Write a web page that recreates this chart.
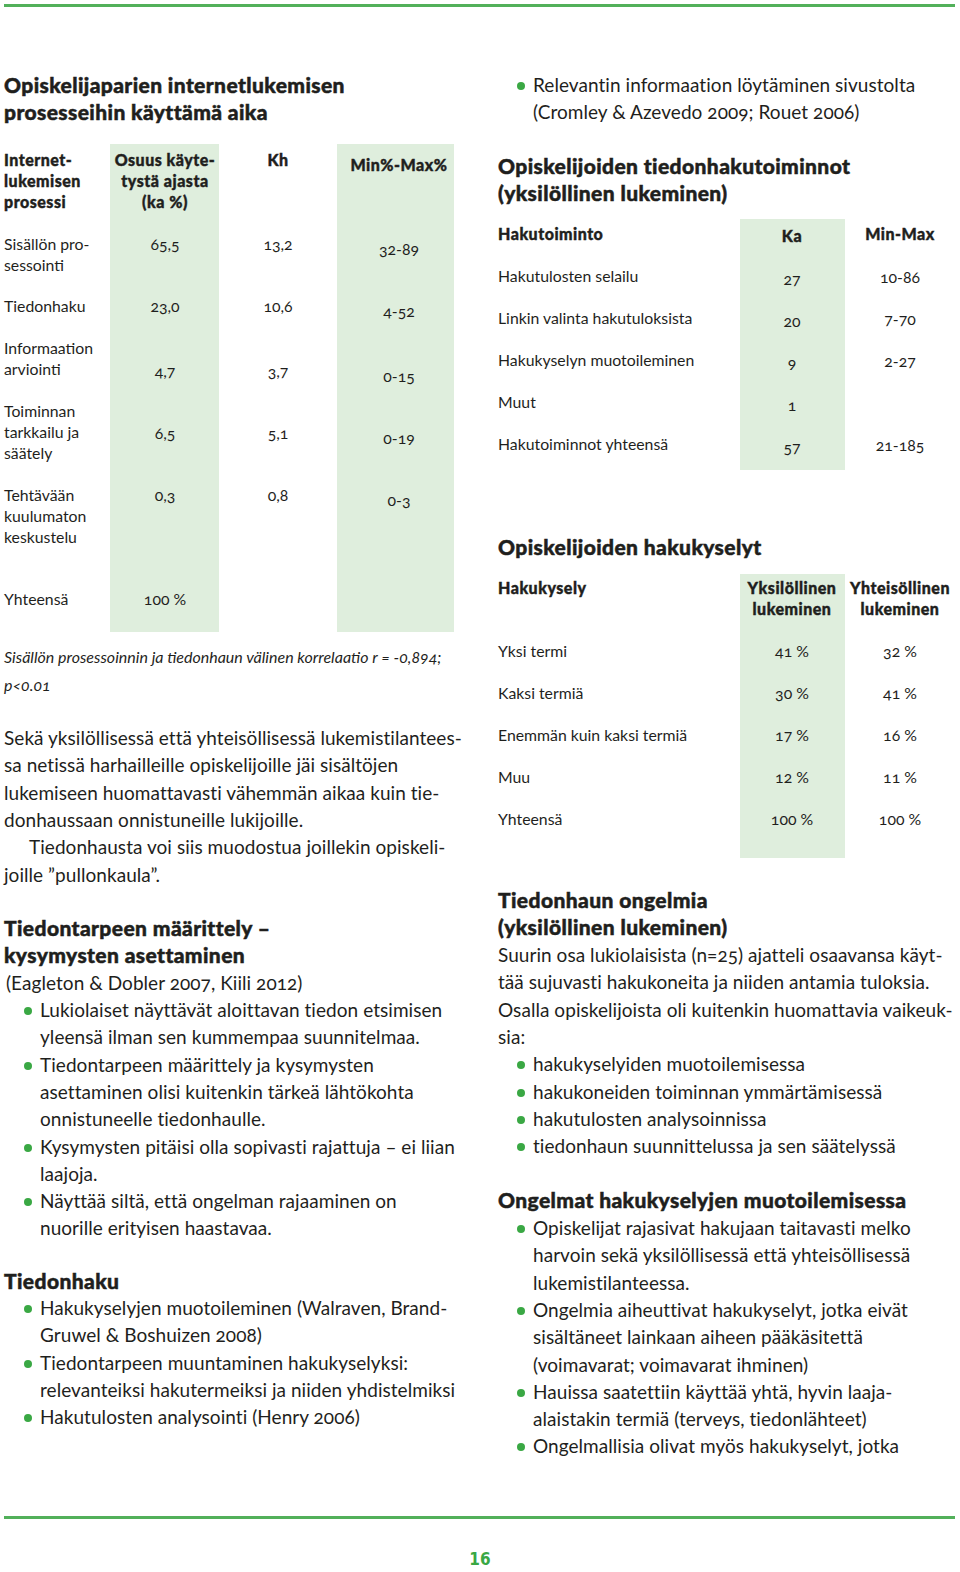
<!DOCTYPE html>
<html lang="fi"><head><meta charset="utf-8">
<script src="https://cdn.jsdelivr.net/npm/chart.js@4.4.1/dist/chart.umd.min.js"></script>
<style>
html,body{margin:0;padding:0}
body{width:960px;height:1572px;position:relative;background:#fff;overflow:hidden;font-family:Lato,"Open Sans",sans-serif;color:#1f1f1d}
.a{position:absolute;white-space:nowrap;line-height:24px;height:24px}
.h{font-weight:900;font-size:21px;letter-spacing:0.4px;-webkit-text-stroke:0.5px #1f1f1d}
.th{font-weight:900;font-size:16px;letter-spacing:0.5px;-webkit-text-stroke:0.4px #1f1f1d}
.t{font-size:15.8px}
.it{font-size:16px;font-style:italic}
.b{font-size:19px;letter-spacing:0.05px}
.num{font-variant-numeric:oldstyle-nums}
.shade{position:absolute;background:#dfeedd}
.rule{position:absolute;height:3px;background:#52b05a}
.dot{position:absolute;width:8px;height:8px;border-radius:50%;background:#3aa844}
.pg{font-weight:700;font-size:17px;color:#3aa844;font-family:"DejaVu Sans Condensed","DejaVu Sans",sans-serif}
</style></head>
<body>
<script>
// ---------- data ----------
const processLabels = [["Sisällön pro-","sessointi"],["Tiedonhaku"],["Informaation","arviointi"],["Toiminnan","tarkkailu ja","säätely"],["Tehtävään","kuulumaton","keskustelu"],["Yhteensä"]];
const shareOfTime = ["65,5","23,0","4,7","6,5","0,3","100 %"];
const khValues = ["13,2","10,6","3,7","5,1","0,8",""];
const minMaxPct = ["32-89","4-52","0-15","0-19","0-3",""];

const searchActions = ["Hakutulosten selailu","Linkin valinta hakutuloksista","Hakukyselyn muotoileminen","Muut","Hakutoiminnot yhteensä"];
const searchMean = ["27","20","9","1","57"];
const searchMinMax = ["10-86","7-70","2-27","","21-185"];

const queryTypes = ["Yksi termi","Kaksi termiä","Enemmän kuin kaksi termiä","Muu","Yhteensä"];
const individualPct = ["41 %","30 %","17 %","12 %","100 %"];
const collectivePct = ["32 %","41 %","16 %","11 %","100 %"];

// ---------- layout ----------
const B = document.body;
function el(cls, css){const d=document.createElement('div');d.className=cls;Object.assign(d.style,css);B.appendChild(d);return d;}
function txt(s,x,y,cls,align){const d=el('a '+cls,{top:(y-12)+'px'});d.textContent=s;
  if(align==='c'){d.style.left=x+'px';d.style.transform='translateX(-50%)';} else d.style.left=x+'px'; return d;}
function lines(arr,x,y0,cls,step){arr.forEach((s,i)=>txt(s,x,y0+i*step,cls));}
function bullets(items,xDot,xText,y0,step,cls){let y=y0;items.forEach(it=>{el('dot',{left:(xDot-4)+'px',top:(y-3)+'px'});it.forEach(s=>{txt(s,xText,y,cls);y+=step;});});return y;}

// rules
el('rule',{left:'4px',top:'4px',width:'951px'});
el('rule',{left:'4px',top:'1516px',width:'951px'});

// shaded columns
el('shade',{left:'110px',top:'144px',width:'109px',height:'488px'});
el('shade',{left:'337px',top:'144px',width:'117px',height:'488px'});
el('shade',{left:'740px',top:'219px',width:'105px',height:'251px'});
el('shade',{left:'740px',top:'574px',width:'105px',height:'284px'});

// left title
lines(["Opiskelijaparien internetlukemisen","prosesseihin käyttämä aika"],4,85,'h',27);

// table 1
lines(["Internet-","lukemisen","prosessi"],4,160,'th',21);
["Osuus käyte-","tystä ajasta","(ka %)"].forEach((s,i)=>txt(s,165,160+i*21,'th','c'));
txt("Kh",278,160,'th','c');
txt("Min%-Max%",399,165,'th','c');
const rowLabelY=[244,306,348,411,495,599];
const rowValueY=[244,306,371,433,495,599];
processLabels.forEach((lab,i)=>{
  lines(lab,4,rowLabelY[i],'t',21);
  txt(shareOfTime[i],165,rowValueY[i],'t num','c');
  if(khValues[i]) txt(khValues[i],278,rowValueY[i],'t num','c');
  if(minMaxPct[i]) txt(minMaxPct[i],399,rowValueY[i]+5,'t num','c');
});
txt("Sisällön prosessoinnin ja tiedonhaun välinen korrelaatio r = -0,894;",4,657,'it num');
txt("p<0.01",4,685,'it num');

// left body
const S=27.3;
lines(["Sekä yksilöllisessä että yhteisöllisessä lukemistilantees-","sa netissä harhailleille opiskelijoille jäi sisältöjen","lukemiseen huomattavasti vähemmän aikaa kuin tie-","donhaussaan onnistuneille lukijoille."],4,738,'b',S);
txt("Tiedonhausta voi siis muodostua joillekin opiskeli-",29,738+4*S,'b');
txt("joille ”pullonkaula”.",4,738+5*S,'b');

lines(["Tiedontarpeen määrittely –","kysymysten asettaminen"],4,928,'h',27);
txt("(Eagleton & Dobler 2007, Kiili 2012)",6,983,'b num');
bullets([["Lukiolaiset näyttävät aloittavan tiedon etsimisen","yleensä ilman sen kummempaa suunnitelmaa."],
 ["Tiedontarpeen määrittely ja kysymysten","asettaminen olisi kuitenkin tärkeä lähtökohta","onnistuneelle tiedonhaulle."],
 ["Kysymysten pitäisi olla sopivasti rajattuja – ei liian","laajoja."],
 ["Näyttää siltä, että ongelman rajaaminen on","nuorille erityisen haastavaa."]],28,40,1010,S,'b');

txt("Tiedonhaku",4,1281,'h');
bullets([["Hakukyselyjen muotoileminen (Walraven, Brand-","Gruwel & Boshuizen 2008)"],
 ["Tiedontarpeen muuntaminen hakukyselyksi:","relevanteiksi hakutermeiksi ja niiden yhdistelmiksi"],
 ["Hakutulosten analysointi (Henry 2006)"]],28,40,1308,S,'b num');

// right column
bullets([["Relevantin informaation löytäminen sivustolta","(Cromley & Azevedo 2009; Rouet 2006)"]],521,533,85,27,'b num');
lines(["Opiskelijoiden tiedonhakutoiminnot","(yksilöllinen lukeminen)"],498,166,'h',27);
txt("Hakutoiminto",498,234,'th');
txt("Ka",792,236,'th','c');
txt("Min-Max",900,234,'th','c');
searchActions.forEach((s,i)=>{const y=276+i*42;txt(s,498,y,'t');
  txt(searchMean[i],792,y+3,'t num','c'); if(searchMinMax[i]) txt(searchMinMax[i],900,y+1,'t num','c');});

txt("Opiskelijoiden hakukyselyt",498,547,'h');
txt("Hakukysely",498,588,'th');
["Yksilöllinen","lukeminen"].forEach((s,i)=>txt(s,792,588+i*21,'th','c'));
["Yhteisöllinen","lukeminen"].forEach((s,i)=>txt(s,900,588+i*21,'th','c'));
queryTypes.forEach((s,i)=>{const y=651+i*42;txt(s,498,y,'t');
  txt(individualPct[i],792,y,'t num','c'); txt(collectivePct[i],900,y,'t num','c');});

lines(["Tiedonhaun ongelmia","(yksilöllinen lukeminen)"],498,900,'h',27);
lines(["Suurin osa lukiolaisista (n=25) ajatteli osaavansa käyt-","tää sujuvasti hakukoneita ja niiden antamia tuloksia.","Osalla opiskelijoista oli kuitenkin huomattavia vaikeuk-","sia:"],498,955,'b num',S);
bullets([["hakukyselyiden muotoilemisessa"],["hakukoneiden toiminnan ymmärtämisessä"],["hakutulosten analysoinnissa"],["tiedonhaun suunnittelussa ja sen säätelyssä"]],521,533,955+4*S,S,'b');

txt("Ongelmat hakukyselyjen muotoilemisessa",498,1200,'h');
bullets([["Opiskelijat rajasivat hakujaan taitavasti melko","harvoin sekä yksilöllisessä että yhteisöllisessä","lukemistilanteessa."],
 ["Ongelmia aiheuttivat hakukyselyt, jotka eivät","sisältäneet lainkaan aiheen pääkäsitettä","(voimavarat; voimavarat ihminen)"],
 ["Hauissa saatettiin käyttää yhtä, hyvin laaja-","alaistakin termiä (terveys, tiedonlähteet)"],
 ["Ongelmallisia olivat myös hakukyselyt, jotka"]],521,533,1228,S,'b');

txt("16",480,1559,'pg','c');
</script>
</body></html>
